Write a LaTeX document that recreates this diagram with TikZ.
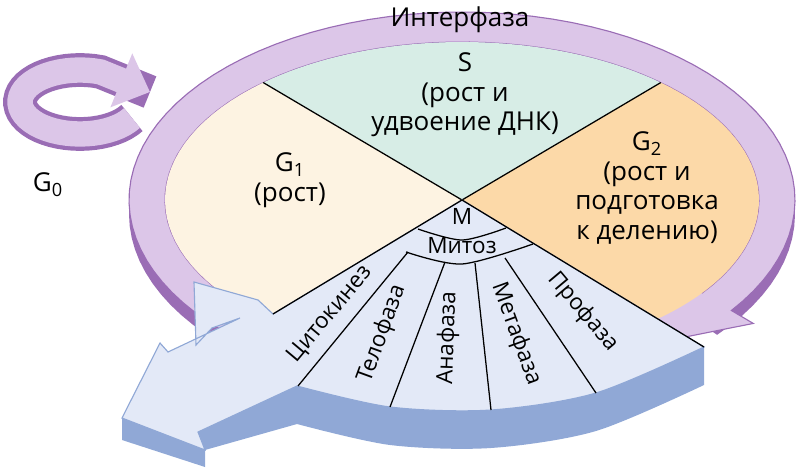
\documentclass[tikz,border=0pt]{standalone}
\usepackage{fontspec}
\setmainfont{Open Sans}
\usetikzlibrary{arrows.meta}
\tikzset{
  lbl/.style={align=center, font=\fontsize{18.5}{21}\selectfont, inner sep=1pt},
  phase/.style={font=\fontsize{16}{18}\selectfont, inner sep=1pt},
  sep/.style={draw=black, line width=0.9pt}
}
\definecolor{ringc}{HTML}{DCC6E8}
\definecolor{ringd}{HTML}{9A6DB5}
\definecolor{sc}{HTML}{D7EDE6}
\definecolor{gonec}{HTML}{FDF3E2}
\definecolor{gtwoc}{HTML}{FCD9A8}
\definecolor{mc}{HTML}{E3E9F7}
\definecolor{md}{HTML}{90A8D6}
\begin{document}
\begin{tikzpicture}[x=0.025cm, y=-0.025cm]
  \useasboundingbox (0,0) rectangle (800,472);
  \def\cx{462}\def\cy{200}
  % ring underside
  \fill[ringd] plot[domain=245:-40, samples=80] ({\cx+333*cos(\x)},{\cy+14-188*sin(\x)})
     -- plot[domain=-40:245, samples=80] ({\cx+297*cos(\x)},{\cy+14-158*sin(\x)}) -- cycle;
  % ring with arrowhead
  \filldraw[fill=ringc, draw=ringd, line width=0.8pt]
     plot[domain=245:-36, samples=80] ({\cx+333*cos(\x)},{\cy-188*sin(\x)})
     -- ({\cx+360*cos(-36)},{\cy-210*sin(-36)})
     -- ({\cx+300*cos(-60)},{\cy-175*sin(-60)})
     -- ({\cx+270*cos(-36)},{\cy-135*sin(-36)})
     -- plot[domain=-36:245, samples=80] ({\cx+297*cos(\x)},{\cy-158*sin(\x)}) -- cycle;
  % G0 loop
  \draw[ringd, line width=24pt] plot[domain=30:290, samples=40] ({80+60*cos(\x)},{102+32*sin(\x)}) -- (150,92);
  \draw[ringc, line width=18pt, -{Triangle[length=22pt, width=40pt]}]
     plot[domain=30:290, samples=40] ({80+60*cos(\x)},{102+32*sin(\x)}) -- (150,92);
  % sectors
  \coordinate (C) at (\cx,\cy);
  \fill[sc] (C) -- plot[domain=132:48, samples=40] ({\cx+297*cos(\x)},{\cy-158*sin(\x)}) -- cycle;
  \fill[gtwoc] (C) -- plot[domain=48:-50, samples=40] ({\cx+297*cos(\x)},{\cy-158*sin(\x)}) -- cycle;
  \fill[gonec] (C) -- plot[domain=132:250, samples=40] ({\cx+297*cos(\x)},{\cy-158*sin(\x)}) -- cycle;
  \draw[sep] (C) -- ({\cx+297*cos(132)},{\cy-158*sin(132)});
  \draw[sep] (C) -- ({\cx+297*cos(48)},{\cy-158*sin(48)});
  % mitosis slab and cytokinesis arrow, side face
  \fill[md] (122,418) -- (122,440) -- (205,467) -- (205,450)
     -- plot[smooth] coordinates {(297,424) (390,445) (491,448) (596,431) (704,385)}
     -- (704,347) -- (297,386) -- cycle;
  % top face
  \filldraw[fill=mc, draw=md, line width=0.8pt]
     (C) -- (273,314) -- (258,300) -- (194,282) -- (196,345) -- (212,328) -- (240,318)
     -- (168,352) -- (160,343) -- (122,418) -- (205,450) -- (198,432) -- (297,386)
     -- plot[smooth] coordinates {(297,386) (390,407) (491,410) (596,393) (704,347)} -- cycle;
  \draw[sep] (273,314) -- (C) -- (704,347);
  % mitosis fan
  \draw[sep] plot[smooth] coordinates {(418,229) (462,240) (506,228)};
  \draw[sep] plot[smooth] coordinates {(406,252) (462,264) (533,244)};
  \draw[sep] (408,252) -- (298,386);
  \draw[sep] (445,262) -- (390,407);
  \draw[sep] (475,263) -- (491,410);
  \draw[sep] (505,258) -- (596,393);
  \node[phase] (cyto) at (330,314) [rotate=50] {Цитокинез};
  \node[phase] (telo) at (382,334) [rotate=70] {Телофаза};
  \node[phase] (ana) at (448,338) [rotate=88] {Анафаза};
  \node[phase] (meta) at (516,334) [rotate=-70] {Метафаза};
  \node[phase] (pro) at (583,312) [rotate=-50] {Профаза};
  % labels
  \node[lbl] (inter) at (460,20) {Интерфаза};
  \node[lbl] (s) at (465,95) {S\\(рост и\\удвоение ДНК)};
  \node[lbl] (g1) at (290,180) {G\textsubscript{1}\\(рост)};
  \node[lbl] (g2) at (647,188) {G\textsubscript{2}\\(рост и\\подготовка\\к делению)};
  \node[lbl] (g0) at (48,185) {G\textsubscript{0}};
  \node[phase] (m) at (462,216) {М};
  \node[phase] (mit) at (462,246) {Митоз};
\end{tikzpicture}
\end{document}
